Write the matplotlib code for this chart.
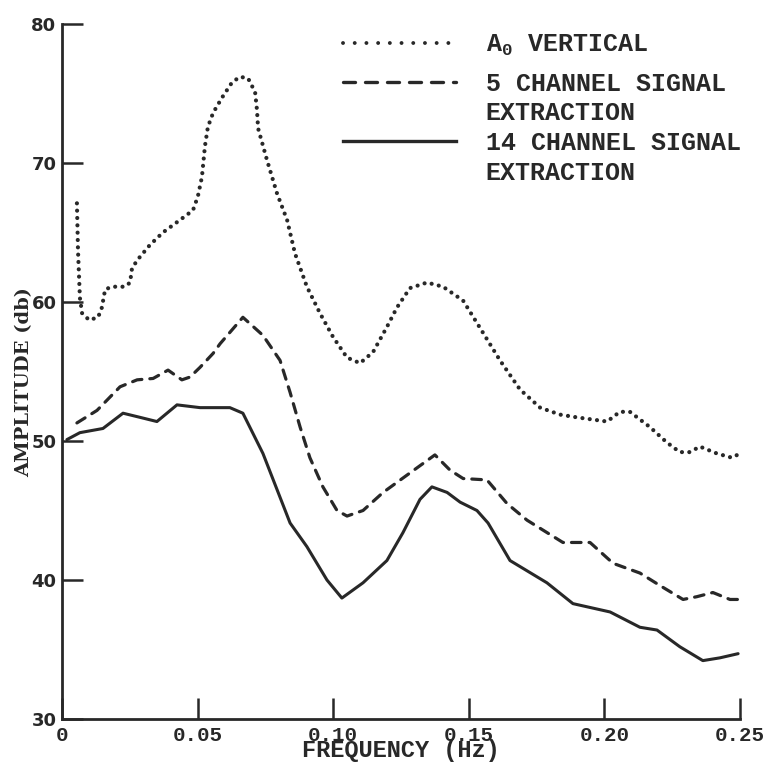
import numpy as np
import matplotlib.pyplot as plt
from matplotlib.lines import Line2D

plt.rcParams["mathtext.fontset"] = "custom"
plt.rcParams["mathtext.rm"] = "Liberation Mono:bold"
plt.rcParams["mathtext.it"] = "Liberation Mono:bold"
plt.rcParams["mathtext.bf"] = "Liberation Mono:bold"

# A0 vertical (dotted curve)
freq_a0 = [0.0055, 0.0059, 0.0066, 0.0074, 0.0100, 0.0133, 0.0147, 0.0159, 0.0184,
           0.0206, 0.0232, 0.0251, 0.0258, 0.0277, 0.0324, 0.0372, 0.0435, 0.0483,
           0.0501, 0.0516, 0.0527, 0.0538, 0.0557, 0.0590, 0.0627, 0.0656, 0.0686,
           0.0712, 0.0719, 0.0723, 0.0756, 0.0793, 0.0830, 0.0859, 0.0903, 0.0951,
           0.0999, 0.1051, 0.1099, 0.1147, 0.1198, 0.1235, 0.1283, 0.1346, 0.1405,
           0.1479, 0.1552, 0.1615, 0.1689, 0.1763, 0.1836, 0.1899, 0.2010, 0.2057,
           0.2094, 0.2168, 0.2230, 0.2278, 0.2315, 0.2352, 0.2415, 0.2470, 0.2500]
amp_a0 = [67.1, 63.7, 60.3, 59.2, 58.7, 58.9, 59.6, 60.9, 61.1,
          61.1, 61.1, 61.4, 62.4, 63.0, 64.1, 65.0, 65.9, 66.6,
          67.6, 69.0, 71.2, 72.6, 73.6, 74.7, 75.8, 76.2, 76.1,
          75.1, 73.8, 72.5, 70.2, 67.8, 65.9, 63.5, 61.1, 59.2,
          57.5, 56.0, 55.6, 56.4, 58.2, 59.6, 61.0, 61.4, 61.1,
          60.1, 57.8, 55.8, 53.7, 52.4, 51.9, 51.7, 51.4, 52.1,
          52.1, 51.0, 49.9, 49.2, 49.2, 49.6, 49.1, 48.8, 49.1]

# 5 channel signal extraction (dashed curve)
freq_5ch = [0.0055, 0.0129, 0.0214, 0.0277, 0.0336, 0.0391, 0.0442, 0.0472, 0.0509,
            0.0557, 0.0583, 0.0667, 0.0741, 0.0804, 0.0841, 0.0878, 0.0914, 0.0962,
            0.1014, 0.1051, 0.1110, 0.1184, 0.1283, 0.1375, 0.1431, 0.1479, 0.1567,
            0.1641, 0.1715, 0.1847, 0.1947, 0.2032, 0.2131, 0.2205, 0.2290, 0.2341,
            0.2400, 0.2463, 0.2500]
amp_5ch = [51.3, 52.2, 53.9, 54.4, 54.5, 55.1, 54.4, 54.6, 55.3,
           56.3, 57.0, 58.9, 57.6, 55.8, 53.5, 51.0, 48.8, 46.7,
           45.0, 44.6, 45.0, 46.3, 47.7, 49.0, 47.9, 47.3, 47.2,
           45.5, 44.3, 42.7, 42.7, 41.2, 40.5, 39.6, 38.6, 38.8,
           39.1, 38.6, 38.6]

# 14 channel signal extraction (solid curve)
freq_14ch = [0.0018, 0.0066, 0.0151, 0.0225, 0.0288, 0.0350, 0.0424, 0.0509, 0.0619,
             0.0667, 0.0741, 0.0841, 0.0903, 0.0977, 0.1032, 0.1110, 0.1198, 0.1257,
             0.1320, 0.1364, 0.1420, 0.1468, 0.1530, 0.1571, 0.1652, 0.1788, 0.1884,
             0.2021, 0.2131, 0.2194, 0.2278, 0.2363, 0.2426, 0.2493]
amp_14ch = [50.1, 50.6, 50.9, 52.0, 51.7, 51.4, 52.6, 52.4, 52.4,
            52.0, 49.1, 44.1, 42.4, 40.0, 38.7, 39.8, 41.4, 43.4,
            45.8, 46.7, 46.3, 45.6, 45.0, 44.1, 41.4, 39.8, 38.3,
            37.7, 36.6, 36.4, 35.2, 34.2, 34.4, 34.7]

xticks = [0, 0.05, 0.10, 0.15, 0.20, 0.25]
xtick_labels = ["0", "0.05", "0.10", "0.15", "0.20", "0.25"]
yticks = [30, 40, 50, 60, 70, 80]
ytick_labels = ["30", "40", "50", "60", "70", "80"]

ink = "#282828"
mono = "Liberation Mono"

fig = plt.figure(figsize=(7.68, 7.64), dpi=100)
ax = fig.add_axes([62 / 768, 45 / 764, 678 / 768, 695 / 764])

ax.plot(freq_a0, amp_a0, color=ink, lw=3.0, linestyle=(0, (0.01, 1.75)),
        dash_capstyle="round", clip_on=False)
ax.plot(freq_5ch, amp_5ch, color=ink, lw=2.3, linestyle=(0, (3.0, 2.5)),
        dash_capstyle="round", clip_on=False)
ax.plot(freq_14ch, amp_14ch, color=ink, lw=2.2, solid_capstyle="round",
        solid_joinstyle="round", clip_on=False)

ax.set_xlim(0, 0.25)
ax.set_ylim(30, 80)

for side in ["top", "right"]:
    ax.spines[side].set_visible(False)
for side in ["left", "bottom"]:
    ax.spines[side].set_linewidth(2.0)
    ax.spines[side].set_color(ink)

ax.tick_params(direction="in", length=15, width=1.8, color=ink)
ax.tick_params(axis="x", pad=5)
ax.tick_params(axis="y", pad=4)
ax.set_xticks(xticks, labels=xtick_labels, fontfamily=mono,
              fontweight="bold", fontsize=15, color=ink)
ax.set_yticks(yticks, labels=ytick_labels, fontfamily="DejaVu Sans",
              fontweight="bold", fontsize=13, color=ink)

ax.set_xlabel("FREQUENCY (Hz)", fontfamily=mono, fontweight="bold",
              fontsize=17, color=ink, labelpad=-4)
ax.set_ylabel("AMPLITUDE (db)", fontfamily="DejaVu Serif", fontweight="bold",
              fontsize=14, color=ink)
ax.yaxis.set_label_coords(-0.043, 0.485)

# legend
leg_font = {"family": mono, "weight": "bold", "size": 18}
h_a0 = Line2D([], [], color=ink, lw=2.8, linestyle=(0, (0.01, 3.0)),
              dash_capstyle="round")
h_5 = Line2D([], [], color=ink, lw=2.4, linestyle=(0, (3.6, 3.0)),
             dash_capstyle="round")
h_14 = Line2D([], [], color=ink, lw=2.4)
h_blank = Line2D([], [], color="none")

leg1 = ax.legend([h_a0], [r"A$_0$ VERTICAL"], prop=leg_font,
                 frameon=False, loc="upper left",
                 bbox_to_anchor=(343 / 768, 1 - 33 / 764),
                 bbox_transform=fig.transFigure, borderpad=0, borderaxespad=0,
                 handlelength=4.5, handletextpad=1.2)
for t in leg1.get_texts():
    t.set_color(ink)
ax.add_artist(leg1)

leg2 = ax.legend([h_5, h_blank, h_14, h_blank],
                 ["5 CHANNEL SIGNAL", "EXTRACTION", "14 CHANNEL SIGNAL", "EXTRACTION"],
                 prop=leg_font, frameon=False, loc="upper left",
                 bbox_to_anchor=(343 / 768, 1 - 72 / 764),
                 bbox_transform=fig.transFigure, borderpad=0, borderaxespad=0,
                 handlelength=4.5, handletextpad=1.2, labelspacing=0.22)
for t in leg2.get_texts():
    t.set_color(ink)

fig.savefig("out.png", dpi=100)
